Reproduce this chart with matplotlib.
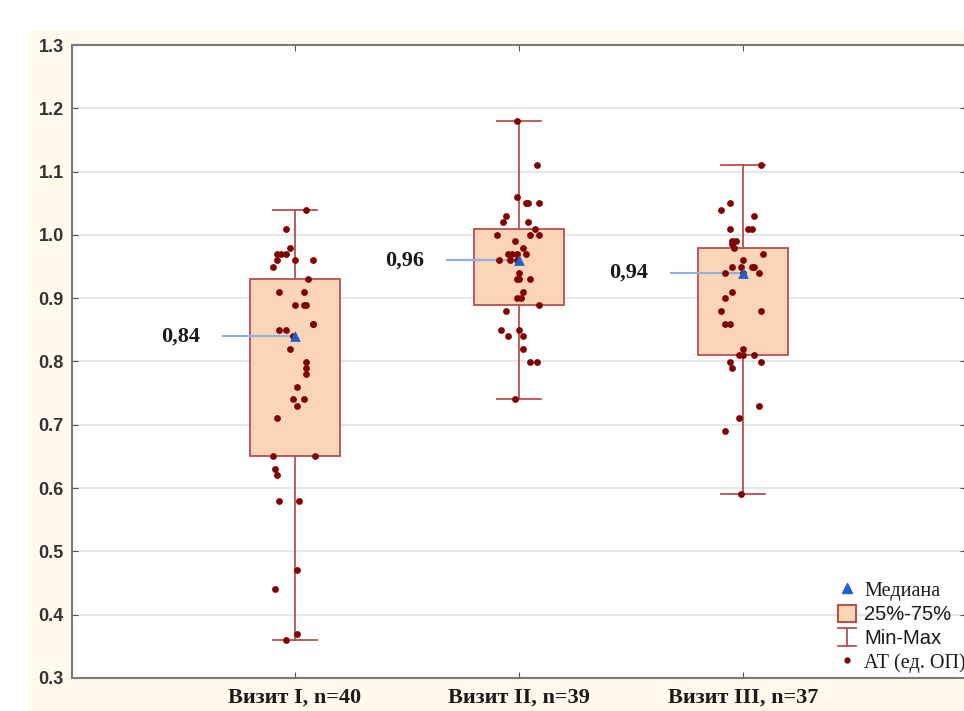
import numpy as np
import matplotlib.pyplot as plt
from matplotlib.lines import Line2D
from matplotlib.patches import Patch, Rectangle
from matplotlib.legend_handler import HandlerBase

# categories and box statistics
visits = ["Визит I, n=40", "Визит II, n=39", "Визит III, n=37"]
medians = [0.84, 0.96, 0.94]
median_labels = ["0,84", "0,96", "0,94"]
q1 = [0.65, 0.89, 0.81]
q3 = [0.93, 1.01, 0.98]
mins = [0.36, 0.74, 0.59]
maxs = [1.04, 1.18, 1.11]

# individual values (АТ, ед. ОП) and their horizontal jitter
at_1 = [1.04, 1.01, 0.98, 0.97, 0.97, 0.96, 0.96, 0.96, 0.95, 0.93,
        0.91, 0.91, 0.89, 0.89, 0.89, 0.86, 0.86, 0.85, 0.85, 0.84,
        0.82, 0.80, 0.79, 0.78, 0.76, 0.74, 0.74, 0.73, 0.71, 0.65,
        0.65, 0.63, 0.62, 0.58, 0.58, 0.47, 0.44, 0.37, 0.36, 0.97]
jit_1 = [0.05, -0.04, -0.02, -0.08, -0.04, -0.08, 0.0, 0.08, -0.10, 0.06,
         -0.07, 0.04, 0.0, 0.04, 0.05, 0.08, 0.08, -0.07, -0.04, -0.01,
         -0.02, 0.05, 0.05, 0.05, 0.01, -0.01, 0.04, 0.01, -0.08, -0.10,
         0.09, -0.09, -0.08, -0.07, 0.02, 0.01, -0.09, 0.01, -0.04, -0.06]

at_2 = [1.18, 1.11, 1.06, 1.05, 1.05, 1.05, 1.03, 1.02, 1.02, 1.01,
        1.00, 1.00, 1.00, 0.99, 0.98, 0.97, 0.97, 0.97, 0.97, 0.96,
        0.96, 0.94, 0.93, 0.93, 0.93, 0.91, 0.90, 0.90, 0.89, 0.88,
        0.85, 0.85, 0.84, 0.84, 0.82, 0.80, 0.80, 0.74, 0.96]
jit_2 = [-0.01, 0.08, -0.01, 0.03, 0.04, 0.09, -0.06, -0.07, 0.04, 0.07,
         -0.10, 0.05, 0.09, -0.02, 0.02, -0.05, -0.03, -0.01, 0.03, -0.04,
         -0.09, 0.0, -0.01, 0.0, 0.05, 0.02, -0.01, 0.01, 0.09, -0.06,
         -0.08, 0.0, -0.05, 0.02, 0.02, 0.05, 0.08, -0.02, -0.01]

at_3 = [1.11, 1.05, 1.04, 1.03, 1.01, 1.01, 1.01, 0.99, 0.99, 0.985,
        0.98, 0.97, 0.96, 0.95, 0.95, 0.95, 0.95, 0.94, 0.94, 0.91,
        0.90, 0.88, 0.88, 0.86, 0.86, 0.82, 0.81, 0.81, 0.81, 0.80,
        0.80, 0.79, 0.73, 0.71, 0.69, 0.59, 0.94]
jit_3 = [0.08, -0.06, -0.10, 0.05, -0.06, 0.02, 0.04, -0.05, -0.03, -0.05,
         -0.04, 0.09, 0.0, -0.05, -0.01, 0.04, 0.05, -0.08, 0.07, -0.05,
         -0.08, -0.10, 0.08, -0.08, -0.06, 0.0, -0.02, 0.0, 0.05, -0.06,
         0.08, -0.05, 0.07, -0.02, -0.08, -0.01, 0.0]

points = [at_1, at_2, at_3]
jitter = [jit_1, jit_2, jit_3]

box_edge = "#b9504f"
box_fill = "#fbd5b6"
dot_col = "#820000"
tri_col = "#1f5fd2"


class WhiskerHandler(HandlerBase):
    # legend symbol for Min-Max: vertical line with two caps
    def create_artists(self, legend, orig_handle, xdescent, ydescent,
                       width, height, fontsize, trans):
        x0, y0 = -xdescent, -ydescent
        cx = x0 + width / 2
        kw = dict(color=orig_handle.get_color(), lw=orig_handle.get_linewidth(), transform=trans)
        return [Line2D([cx, cx], [y0, y0 + height], **kw),
                Line2D([x0, x0 + width], [y0, y0], **kw),
                Line2D([x0, x0 + width], [y0 + height, y0 + height], **kw)]


fig = plt.figure(figsize=(9.64, 7.11), dpi=100)
fig.patches.append(Rectangle((28 / 964, 0), 1, 1 - 30 / 711, transform=fig.transFigure,
                             facecolor="#fffaeb", edgecolor="none", zorder=-10))
ax = fig.add_axes([72 / 964, 33 / 711, 894 / 964, 633 / 711])
ax.set_facecolor("white")

pos = np.arange(1, 4)
stats = [dict(med=medians[i], q1=q1[i], q3=q3[i], whislo=mins[i], whishi=maxs[i], fliers=[])
         for i in range(3)]
ax.bxp(stats, positions=pos, widths=0.4, capwidths=0.2, showfliers=False, patch_artist=True,
       boxprops=dict(facecolor=box_fill, edgecolor=box_edge, lw=1.3),
       whiskerprops=dict(color=box_edge, lw=1.3),
       capprops=dict(color=box_edge, lw=1.3),
       medianprops=dict(lw=0), zorder=2)

for i in range(3):
    x = pos[i] + np.array(jitter[i])
    ax.scatter(x, points[i], s=24, color=dot_col, zorder=4, lw=0)
    # connector from label to median
    ax.plot([pos[i] - 0.32, pos[i]], [medians[i], medians[i]], color="#8fb0e3", lw=1.5, zorder=3)
    ax.text(pos[i] - 0.51, medians[i], median_labels[i], ha="center", va="center",
            fontsize=16, fontweight="bold", family="Liberation Serif", color="#1a1a1a")

ax.scatter(pos, medians, marker="^", s=60, color=tri_col, zorder=5, lw=0)

ax.set_xlim(0.005, 3.995)
ax.set_ylim(0.3, 1.3)
ax.set_yticks(np.arange(0.3, 1.31, 0.1))
ax.set_yticklabels([f"{v:.1f}" for v in np.arange(0.3, 1.31, 0.1)],
                   fontsize=13, fontweight="bold", family="Liberation Sans", color="#333333")
ax.set_xticks(pos)
ax.set_xticklabels(visits, fontsize=16, fontweight="bold", family="Liberation Serif", color="#1a1a1a")
ax.tick_params(axis="both", direction="in", length=4, color="#555555", top=True, right=True)
ax.tick_params(axis="x", pad=7)
ax.tick_params(axis="y", pad=6)
ax.yaxis.grid(True, color="#e6e6e6", lw=1.5)
ax.set_axisbelow(True)
for s in ["left", "bottom", "top", "right"]:
    ax.spines[s].set_color("#7a7a7a")
    ax.spines[s].set_linewidth(1.5)

handles = [Line2D([], [], marker="^", ls="none", color=tri_col, markersize=7),
           Patch(facecolor=box_fill, edgecolor=box_edge, lw=1.5),
           Line2D([], [], color=box_edge, lw=1.3),
           Line2D([], [], marker="o", ls="none", color=dot_col, markersize=3.5)]
labels = ["Медиана", "25%-75%", "Min-Max", "АТ (ед. ОП)"]
leg = fig.legend(handles, labels, loc="upper left", bbox_to_anchor=(838 / 964, 1 - 580 / 711),
                 frameon=False, fontsize=14.5, handlelength=0.9, handleheight=0.95,
                 handletextpad=0.4, labelspacing=0.2, borderpad=0, borderaxespad=0,
                 handler_map={handles[2]: WhiskerHandler()})
for t, fam in zip(leg.get_texts(), ["Liberation Serif", "Liberation Sans", "Liberation Sans", "Liberation Serif"]):
    t.set_family(fam)
    t.set_color("#1a1a1a")

fig.savefig("out.png", dpi=100)
